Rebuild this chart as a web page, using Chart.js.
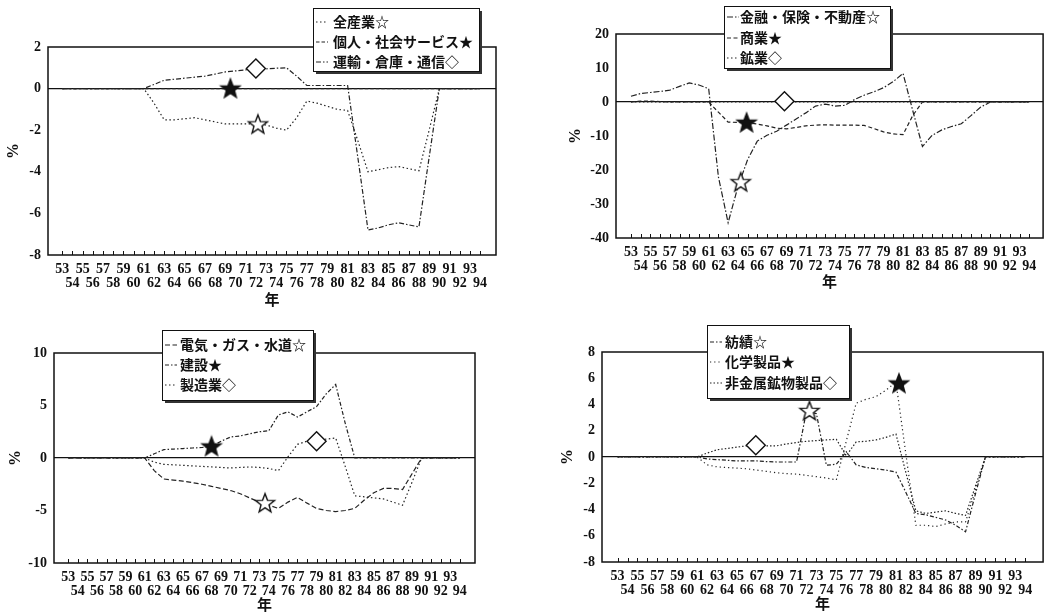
<!DOCTYPE html>
<html>
<head>
<meta charset="utf-8">
<script src="https://cdn.jsdelivr.net/npm/chart.js@4.4.1/dist/chart.umd.min.js"></script>
<style>
  body { margin: 0; background: #fff; width: 1054px; height: 615px; position: relative; overflow: hidden; }
  canvas { position: absolute; }
</style>
</head>
<body>
<canvas id="p1" width="527" height="308" style="left:0;top:0"></canvas>
<canvas id="p2" width="527" height="290" style="left:527px;top:0"></canvas>
<canvas id="p3" width="527" height="313" style="left:0;top:300px"></canvas>
<canvas id="p4" width="527" height="312" style="left:527px;top:300px"></canvas>
<script>
// 年 (53〜94)
const years = [53,54,55,56,57,58,59,60,61,62,63,64,65,66,67,68,69,70,71,72,73,74,75,76,77,78,79,80,81,82,83,84,85,86,87,88,89,90,91,92,93,94];

// 左上
const names1 = ['全産業☆', '個人・社会サービス★', '運輸・倉庫・通信◇'];
const zenSangyo = [0,0,0,0,0,0,0,0,0, -0.7,-1.5,-1.5,-1.45,-1.4,-1.5,-1.6,-1.7,-1.7, -1.7,-1.7,-1.75,-1.9,-2.0,-1.4,-0.6,-0.7,-0.85, -1.0,-1.05,-2.5,-4.0,-3.9,-3.8,-3.75,-3.85,-3.95, -2.0,0,0,0,0,0];
const kojin = [0,0,0,0,0,0,0,0,0, 0,0,0,0,0,0,0,0,0, 0,0,0,0,0,0,0,0,0, 0,0,0,0,0,0,0,0,0, 0,0,0,0,0,0];
const unyu = [0,0,0,0,0,0,0,0,0, 0.2,0.4,0.45,0.5,0.55,0.6,0.7,0.8,0.85, 0.9,0.97,0.95,0.98,1.0,0.6,0.15,0.15,0.15, 0.15,0.15,-3.3,-6.8,-6.7,-6.55,-6.45,-6.55,-6.65, -3.3,0,0,0,0,0];
const mark1Years = [72.2, 69.5, 72];
const mark1Vals = [-1.72, 0, 0.97];

// 右上
const names2 = ['金融・保険・不動産☆', '商業★', '鉱業◇'];
const kinyu = [1.7,2.5,2.8,3.1,3.5,4.6,5.6,5.0,3.9, -22,-35.5,-25,-17,-11.5,-9.8,-8.6,-6.8,-5.0, -3.2,-1.2,-0.6,-1.2,-1.0,0.7,2.0,3.0,4.2, 6.0,8.4,-2.5,-13.1,-9.8,-8.2,-7.2,-6.4,-4.0, -1.5,0,0,0,0,0];
const shogyo = [0,0.3,0.3,0.1,0,0,0,0,0, -3,-5.9,-6,-6.1,-6.5,-7,-7.7,-7.9,-7.5, -7,-6.8,-6.7,-6.8,-6.8,-6.8,-6.9,-7.8,-8.8, -9.4,-9.6,-4,0,0,0,0,0,0, 0,0,0,0,0,0];
const kogyo = [0,0,0,0,0,0,0,0,0, 0,0,0,0,0,0,0,0,0, 0,0,0,0,0,0,0,0,0, 0,0,0,0,0,0,0,0,0, 0,0,0,0,0,0];
const mark2Years = [64.3, 64.9, 68.8];
const mark2Vals = [-23.6, -6.1, 0.2];

// 左下
const names3 = ['電気・ガス・水道☆', '建設★', '製造業◇'];
const denki = [0,0,0,0,0,0,0,0,0, -1.2,-2.0,-2.1,-2.2,-2.35,-2.5,-2.7,-2.9,-3.1, -3.4,-3.8,-4.2,-4.5,-4.8,-4.2,-3.75,-4.3,-4.8, -5.0,-5.1,-5.0,-4.8,-4.0,-3.3,-2.9,-2.9,-3.0, -1.5,0,0,0,0,0];
const kensetsu = [0,0,0,0,0,0,0,0,0, 0.4,0.8,0.85,0.9,0.95,1.0,1.1,1.6,2.0, 2.1,2.3,2.5,2.6,4.1,4.4,3.9,4.4,4.9, 6.1,7.0,3.3,0,0,0,0,0,0, 0,0,0,0,0,0];
const seizo = [0,0,0,0,0,0,0,0,0, -0.4,-0.6,-0.65,-0.7,-0.75,-0.8,-0.85,-0.9,-0.95, -0.9,-0.85,-0.9,-1.0,-1.2,0.1,1.3,1.6,1.7, 1.8,1.9,-0.8,-3.6,-3.7,-3.8,-3.9,-4.2,-4.5, -2.3,0,0,0,0,0];
const mark3Years = [73.6, 68.0, 79.0];
const mark3Vals = [-4.3, 1.1, 1.6];

// 右下
const names4 = ['紡績☆', '化学製品★', '非金属鉱物製品◇'];
const boseki = [0,0,0,0,0,0,0,0,0, -0.15,-0.2,-0.25,-0.3,-0.3,-0.3,-0.35,-0.38,-0.38, -0.38,3.5,3.3,-0.63,-0.55,0.4,-0.6,-0.8,-0.9, -1.0,-1.15,-2.7,-4.3,-4.4,-4.6,-4.8,-5.2,-5.7, -2.8,0,0,0,0,0];
const kagaku = [0,0,0,0,0,0,0,0,0, -0.6,-0.75,-0.8,-0.85,-0.9,-1.0,-1.1,-1.2,-1.27, -1.3,-1.4,-1.5,-1.6,-1.75,1.2,4.1,4.4,4.6, 5.1,5.7,0.2,-5.2,-5.2,-5.3,-5.1,-4.95,-4.95, -2.5,0,0,0,0,0];
const hikinzoku = [0,0,0,0,0,0,0,0,0, 0.3,0.55,0.65,0.75,0.85,0.9,0.85,0.85,1.0, 1.1,1.2,1.25,1.3,1.35,0.1,1.15,1.2,1.3, 1.5,1.75,-1.2,-4.1,-4.3,-4.2,-4.1,-4.3,-4.45, -2.2,0,0,0,0,0];
const mark4Years = [72.3, 81.3, 66.9];
const mark4Vals = [3.5, 5.6, 0.9];

const ink = '#222';
const numFont = { family: 'Liberation Serif', weight: 'bold', size: 14, lineHeight: 1.0 };
const jpFont = 'bold 14px "Noto Sans CJK JP"';

function makeStar(filled) {
  const c = document.createElement('canvas');
  c.width = 24; c.height = 24;
  const g = c.getContext('2d');
  g.beginPath();
  for (let i = 0; i < 10; i++) {
    const r = i % 2 ? 4.2 : 10;
    const a = -Math.PI / 2 + i * Math.PI / 5;
    g.lineTo(12 + r * Math.cos(a), 12.5 + r * Math.sin(a));
  }
  g.closePath();
  g.fillStyle = filled ? '#111' : '#fff';
  g.fill();
  g.lineWidth = 1.4;
  g.strokeStyle = '#111';
  g.stroke();
  return c;
}
const starO = makeStar(false);
const starF = makeStar(true);

// 枠・内向き目盛・凡例
const framePlugin = {
  id: 'frame',
  afterDatasetsDraw(chart) {
    const { ctx, chartArea: a } = chart;
    const xs = chart.scales.x;
    ctx.save();
    ctx.strokeStyle = '#111';
    ctx.lineWidth = 1.5;
    ctx.strokeRect(a.left, a.top, a.right - a.left, a.bottom - a.top);
    ctx.lineWidth = 1;
    ctx.beginPath();
    years.forEach(v => {
      const px = Math.round(xs.getPixelForValue(v)) + 0.5;
      ctx.moveTo(px, a.bottom);
      ctx.lineTo(px, a.bottom - 4);
    });
    ctx.stroke();
    ctx.restore();
  },
  afterDraw(chart, args, o) {
    if (!o.box) return;
    const { ctx } = chart;
    const b = o.box;
    ctx.save();
    ctx.fillStyle = '#333';
    ctx.fillRect(b.x + 3, b.y + 3, b.w, b.h);
    ctx.fillStyle = '#fff';
    ctx.fillRect(b.x, b.y, b.w, b.h);
    ctx.strokeStyle = '#111';
    ctx.lineWidth = 1;
    ctx.strokeRect(b.x + 0.5, b.y + 0.5, b.w, b.h);
    ctx.font = jpFont;
    ctx.textBaseline = 'middle';
    chart.data.datasets.slice(0, 3).forEach((d, i) => {
      const ry = b.rows[i];
      ctx.strokeStyle = ink;
      ctx.lineWidth = 1.2;
      ctx.setLineDash(d.borderDash);
      ctx.beginPath();
      ctx.moveTo(b.x + 3, ry);
      ctx.lineTo(b.x + 15, ry);
      ctx.stroke();
      ctx.setLineDash([]);
      ctx.fillStyle = '#111';
      ctx.fillText(d.label, b.textX, ry);
    });
    ctx.restore();
  }
};

function makeChart(id, p) {
  const series = p.series.map((vals, i) => ({
    label: p.names[i],
    data: years.map((yr, k) => ({ x: yr, y: vals[k] })),
    borderColor: ink,
    borderWidth: 1.2,
    borderDash: p.dash[i],
    pointRadius: 0,
    tension: 0,
    order: 1
  }));
  const marks = {
    label: 'marks',
    data: p.markX.map((mx, k) => ({ x: mx, y: p.markY[k] })),
    showLine: false,
    pointStyle: [starO, starF, 'rectRot'],
    pointRadius: 9.5,
    backgroundColor: '#fff',
    borderColor: '#111',
    borderWidth: 1.4,
    order: 0
  };
  return new Chart(document.getElementById(id), {
    type: 'line',
    data: { datasets: series.concat([marks]) },
    options: {
      responsive: false,
      animation: false,
      layout: { padding: p.pad },
      plugins: {
        legend: { display: false },
        tooltip: { enabled: false },
        frame: { box: p.box }
      },
      scales: {
        x: {
          type: 'linear',
          min: p.xr[0], max: p.xr[1],
          afterBuildTicks: s => { s.ticks = years.map(v => ({ value: v })); },
          ticks: {
            autoSkip: false, maxRotation: 0, padding: 7, color: '#111', font: numFont,
            callback: v => v % 2 ? [String(v), ''] : ['', String(v)]
          },
          grid: { display: false, drawTicks: false },
          border: { display: false },
          title: { display: true, text: '年', color: '#111', padding: 0,
                   font: { family: 'Noto Sans CJK JP', weight: 'bold', size: 15 } },
          afterFit: s => { s.height = p.xh; }
        },
        y: {
          min: p.yr[0], max: p.yr[1],
          ticks: { stepSize: p.step, padding: 7, color: '#111', font: numFont },
          grid: {
            drawTicks: false, lineWidth: 1.2,
            color: c => (c.tick && c.tick.value === 0) ? '#111' : 'rgba(0,0,0,0)'
          },
          border: { display: false },
          title: { display: true, text: '%', color: '#111', padding: 0,
                   font: { family: 'Liberation Serif', weight: 'bold', size: 16 } },
          afterFit: s => { s.width = p.yw; }
        }
      }
    },
    plugins: [framePlugin]
  });
}

makeChart('p1', {
  names: names1, series: [zenSangyo, kojin, unyu], dash: [[1.5, 2.5], [3.5, 2], [5, 2, 1.5, 2]],
  markX: mark1Years, markY: mark1Vals,
  xr: [51.6, 95.56], yr: [-8, 2], step: 2,
  pad: { left: 4, top: 47, right: 31, bottom: 0 }, yw: 44, xh: 53,
  box: { x: 313, y: 8, w: 166, h: 63, rows: [22, 42, 62], textX: 333 }
});
makeChart('p2', {
  names: names2, series: [kinyu, shogyo, kogyo], dash: [[6, 2, 1.5, 2], [4, 2.5], [1.5, 2.5]],
  markX: mark2Years, markY: mark2Vals,
  xr: [51.46, 95.42], yr: [-40, 20], step: 10,
  pad: { left: 39, top: 34, right: 9, bottom: 0 }, yw: 50, xh: 52,
  box: { x: 197, y: 6, w: 166, h: 62, rows: [17, 38, 58], textX: 213 }
});
makeChart('p3', {
  names: names3, series: [denki, kensetsu, seizo], dash: [[5, 2.5], [4, 2, 1.5, 2], [1.5, 2.5]],
  markX: mark3Years, markY: mark3Vals,
  xr: [51.5, 95.59], yr: [-10, 10], step: 5,
  pad: { left: 6, top: 53, right: 52, bottom: 0 }, yw: 48, xh: 50,
  box: { x: 162, y: 30, w: 151, h: 70, rows: [45, 65, 85], textX: 180 }
});
makeChart('p4', {
  names: names4, series: [boseki, kagaku, hikinzoku], dash: [[4, 2, 1.5, 2], [1.2, 3], [1.5, 2]],
  markX: mark4Years, markY: mark4Vals,
  xr: [51.43, 95.8], yr: [-8, 8], step: 2,
  pad: { left: 31, top: 52, right: 9, bottom: 0 }, yw: 44, xh: 50,
  box: { x: 180, y: 25, w: 142, h: 73, rows: [42, 62, 83], textX: 198 }
});
</script>
</body>
</html>
